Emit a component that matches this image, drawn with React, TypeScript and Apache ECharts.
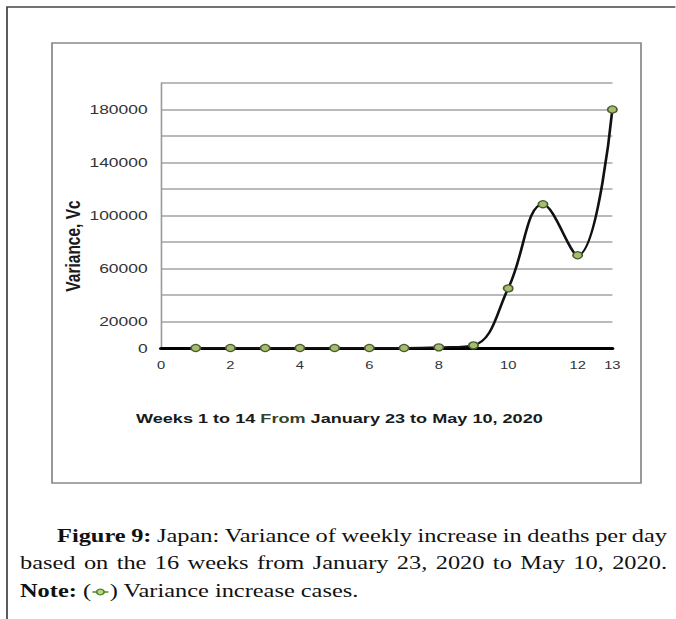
import { useEffect, useRef } from 'react';
import * as echarts from 'echarts';

// horizontal stretch of the reference picture
const SX = 1.34;
const W = 676 / SX;
const H = 619;

const weeks = [1, 2, 3, 4, 5, 6, 7, 8, 9, 10, 11, 12, 13];
const variance = [0, 0, 0, 0, 0, 0, 0, 500, 2000, 45000, 108500, 70000, 180000];
const yLabelValues = [0, 20000, 60000, 100000, 140000, 180000];
const xLabelValues = [0, 2, 4, 6, 8, 10, 12, 13];

const yAxisTitle = 'Variance, Vc';
const xTitleA = 'Weeks 1 to 14 ';
const xTitleB = 'From';
const xTitleC = ' January 23 to May 10, 2020';

type Tok = { t: string; b?: boolean };
const caption1: Tok[] = [
  { t: 'Figure', b: true }, { t: '9:', b: true },
  ...'Japan: Variance of weekly increase in deaths per day'.split(' ').map((t) => ({ t })),
];
const caption2: Tok[] = 'based on the 16 weeks from January 23, 2020 to May 10, 2020.'.split(' ').map((t) => ({ t }));
const noteLabel = 'Note:';
const noteText = ' Variance increase cases.';

const SERIF = '"Liberation Serif", "Times New Roman", serif';
const SANS = '"Liberation Sans", Arial, sans-serif';
const CAP_FS = 18.2;

function measure(ctx: CanvasRenderingContext2D, t: string, bold?: boolean) {
  ctx.font = `${bold ? 'bold ' : ''}${CAP_FS}px ${SERIF}`;
  return ctx.measureText(t).width;
}

export default function App() {
  const ref = useRef<HTMLDivElement>(null);
  useEffect(() => {
    if (!ref.current) return;
    const chart = echarts.init(ref.current, null, { renderer: 'svg' });
    const ctx = document.createElement('canvas').getContext('2d')!;

    const capEls: any[] = [];
    const justify = (toks: Tok[], x0: number, x1: number, y: number) => {
      const ws = toks.map((k) => measure(ctx, k.t, k.b));
      const total = ws.reduce((a, b) => a + b, 0);
      const gap = (x1 - x0 - total) / (toks.length - 1);
      let x = x0;
      toks.forEach((k, i) => {
        capEls.push({
          type: 'text', x, y,
          style: { text: k.t, font: `${k.b ? 'bold ' : ''}${CAP_FS}px ${SERIF}`, fill: '#111', align: 'left', verticalAlign: 'middle' },
        });
        x += ws[i] + gap;
      });
    };
    const L0 = 57 / SX, L1 = 20 / SX, R = 667 / SX;
    justify(caption1, L0, R, 536.5);
    justify(caption2, L1, R, 563.5);
    // line 3
    const y3 = 591.5;
    let x = L1;
    capEls.push({ type: 'text', x, y: y3, style: { text: noteLabel, font: `bold ${CAP_FS}px ${SERIF}`, fill: '#111', align: 'left', verticalAlign: 'middle' } });
    x += measure(ctx, noteLabel, true) + measure(ctx, ' ');
    capEls.push({ type: 'text', x, y: y3, style: { text: '(', font: `${CAP_FS}px ${SERIF}`, fill: '#111', align: 'left', verticalAlign: 'middle' } });
    x += measure(ctx, '(') + 1;
    const symW = 12;
    capEls.push({ type: 'line', shape: { x1: x, y1: y3 + 0.5, x2: x + symW, y2: y3 + 0.5 }, style: { stroke: '#5f8f2f', lineWidth: 1.6 } });
    capEls.push({ type: 'circle', shape: { cx: x + symW / 2, cy: y3 + 0.5, r: 2.8 }, style: { fill: '#b8d48a', stroke: '#4f7f25', lineWidth: 1.2 } });
    x += symW + 1;
    capEls.push({ type: 'text', x, y: y3, style: { text: ')' + noteText, font: `${CAP_FS}px ${SERIF}`, fill: '#111', align: 'left', verticalAlign: 'middle' } });

    chart.setOption({
      animation: false,
      grid: { left: 161 / SX, right: W - 613 / SX, top: 83, bottom: H - 348, containLabel: false },
      xAxis: {
        type: 'value', min: 0, max: 13, interval: 1,
        axisLine: { show: true, lineStyle: { color: '#000', width: 3 } },
        axisTick: { show: false },
        splitLine: { show: false },
        axisLabel: {
          margin: 12, color: '#333', fontSize: 11, fontFamily: SANS,
          formatter: (v: number) => (xLabelValues.includes(v) ? String(v) : ''),
        },
      },
      yAxis: {
        type: 'value', min: 0, max: 200000, interval: 20000,
        axisLine: { show: true, lineStyle: { color: '#9a9a9a', width: 1.2 } },
        axisTick: { show: false },
        splitLine: { show: true, lineStyle: { color: '#a3a3a3', width: 1.5 } },
        axisLabel: {
          margin: 10, color: '#333', fontSize: 13, fontFamily: SANS,
          formatter: (v: number) => (yLabelValues.includes(v) ? String(v) : ''),
        },
      },
      series: [
        {
          type: 'line',
          data: weeks.map((w, i) => [w, variance[i]]),
          smooth: 0.4,
          lineStyle: { color: '#111', width: 2 },
          symbol: 'circle',
          symbolSize: 7,
          itemStyle: { color: '#a5bd6f', borderColor: '#4d5b2f', borderWidth: 1.3 },
          z: 5,
        },
      ],
      graphic: [
        { type: 'polyline', shape: { points: [[W + 5, 7], [7 / SX, 7], [7 / SX, H + 5]] }, style: { stroke: '#444', lineWidth: 1.3, fill: null }, z: -1 },
        { type: 'rect', shape: { x: 52 / SX, y: 43, width: (641 - 52) / SX, height: 440 }, style: { stroke: '#8a8a8a', lineWidth: 1.3, fill: 'none' }, z: -1 },
        {
          type: 'text', x: 73 / SX, y: 246, rotation: Math.PI / 2,
          style: { text: yAxisTitle, font: `bold 15.5px ${SANS}`, fill: '#1a1a1a', align: 'center', verticalAlign: 'middle' },
        },
        {
          type: 'text', x: 136 / SX, y: 418,
          style: {
            text: `{a|${xTitleA}}{f|${xTitleB}}{a|${xTitleC}}`,
            align: 'left', verticalAlign: 'middle',
            rich: {
              a: { font: `bold 13.5px ${SANS}`, fill: '#1a1a1a' },
              f: { font: `bold 13.5px ${SANS}`, fill: '#34432f' },
            },
          },
        },
        ...capEls,
      ],
    });
    return () => chart.dispose();
  }, []);
  return (
    <div
      ref={ref}
      style={{ position: 'absolute', left: 0, top: 0, width: W, height: H, transform: `scaleX(${SX})`, transformOrigin: 'left top', background: '#fff' }}
    />
  );
}
